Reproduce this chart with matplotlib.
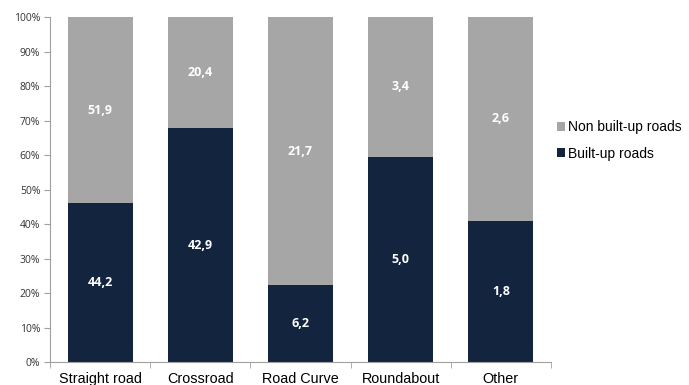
import numpy as np
import matplotlib
matplotlib.use('Agg')
import matplotlib.pyplot as plt
from matplotlib.ticker import PercentFormatter

#-------- data --------#
categories = ['Straight road', 'Crossroad', 'Road Curve', 'Roundabout', 'Other']
built_up = [44.2, 42.9, 6.2, 5.0, 1.8]
non_built_up = [51.9, 20.4, 21.7, 3.4, 2.6]

c_built = '#13243f'
c_non = '#a6a6a6'

built = np.array(built_up)
non = np.array(non_built_up)
total = built + non
p_built = built / total * 100
p_non = non / total * 100
x = np.arange(len(categories))

fig = plt.figure(figsize=(6.89, 3.85), dpi=100)
ax = fig.add_axes([0.0726, 0.0597, 0.727, 0.896])

b1 = ax.bar(x, p_built, width=0.65, color=c_built, label='Built-up roads', zorder=2)
b2 = ax.bar(x, p_non, width=0.65, bottom=p_built, color=c_non, label='Non built-up roads', zorder=2)

# labels centred in each segment
for i in range(len(x)):
    ax.text(x[i], p_built[i] / 2, f'{built_up[i]:.1f}'.replace('.', ','), ha='center', va='center',
            color='white', fontsize=9, fontweight='bold', family='Open Sans')
    ax.text(x[i], p_built[i] + p_non[i] / 2, f'{non_built_up[i]:.1f}'.replace('.', ','), ha='center',
            va='center', color='white', fontsize=9, fontweight='bold', family='Open Sans')

ax.set_xlim(-0.5, len(x) - 0.5)
ax.set_ylim(0, 100)
ax.set_yticks(np.arange(0, 101, 10))
ax.yaxis.set_major_formatter(PercentFormatter(decimals=0))
ax.set_xticks(x)
ax.set_xticklabels(categories, fontsize=10.4, family='Liberation Sans')
ax.set_xticks(np.arange(-0.5, len(x), 1), minor=True)
ax.tick_params(axis='x', which='major', length=0, pad=7)
ax.tick_params(axis='x', which='minor', length=4, color='#a0a0a0')
ax.tick_params(axis='y', length=4, color='#a0a0a0', labelsize=7.5, pad=3)
for lbl in ax.get_yticklabels():
    lbl.set_family('Open Sans')
    lbl.set_color('#333333')

for s in ['top', 'right']:
    ax.spines[s].set_visible(False)
for s in ['left', 'bottom']:
    ax.spines[s].set_color('#a0a0a0')
    ax.spines[s].set_linewidth(0.8)

h, l = ax.get_legend_handles_labels()
fig.legend(h[::-1], l[::-1], loc='center left', bbox_to_anchor=(0.79, 0.635), frameon=False,
           prop={'family': 'Liberation Sans', 'size': 10}, handlelength=0.6, handleheight=0.6,
           handletextpad=0.2, labelspacing=0.9)

plt.savefig('out.png', dpi=100)
